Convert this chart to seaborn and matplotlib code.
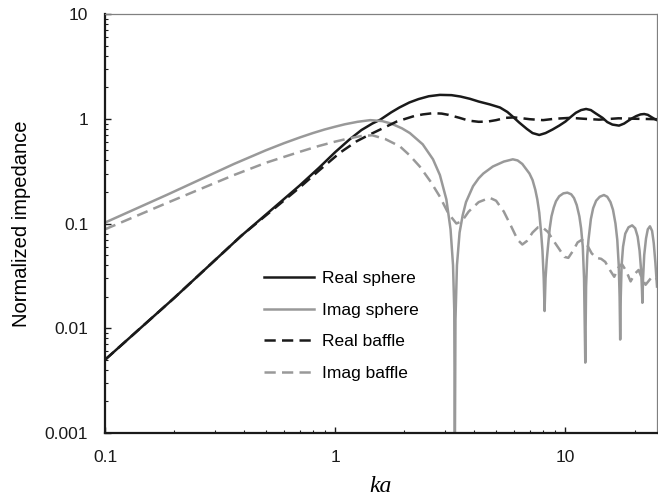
import numpy as np
import pandas as pd
import seaborn as sns
import matplotlib.pyplot as plt
from matplotlib.ticker import LogLocator, FuncFormatter, NullFormatter

# values
ka_real_sphere = [0.1, 0.2, 0.39, 0.7, 0.85, 1.0, 1.15, 1.3, 1.45, 1.57, 1.75, 1.9, 2.1,
                  2.3, 2.55, 2.85, 3.2, 3.5, 3.85, 4.2, 4.7, 5.2, 5.6, 5.9, 6.3, 6.8, 7.2,
                  7.7, 8.2, 8.8, 9.4, 10, 10.6, 11.1, 11.7, 12.3, 12.9, 13.5, 14.5, 15.2,
                  16.0, 17.1, 18.0, 18.8, 19.5, 20.3, 21.2, 22.0, 22.8, 23.6, 24.3, 25]
real_sphere = [0.005, 0.0195, 0.076, 0.23, 0.34, 0.48, 0.63, 0.78, 0.9, 0.98, 1.15, 1.28,
               1.43, 1.54, 1.64, 1.69, 1.68, 1.63, 1.55, 1.46, 1.37, 1.28, 1.16, 1.05,
               0.92, 0.80, 0.73, 0.70, 0.73, 0.79, 0.86, 0.94, 1.05, 1.14, 1.21, 1.24,
               1.21, 1.13, 1.02, 0.93, 0.88, 0.86, 0.9, 0.96, 1.01, 1.06, 1.1, 1.11, 1.09,
               1.04, 1.0, 0.97]

ka_imag_sphere = [0.1, 0.187, 0.363, 0.5, 0.6, 0.705, 0.8, 0.9, 1.0, 1.1, 1.25, 1.42, 1.6,
                  1.75, 1.95, 2.11, 2.4, 2.66, 2.85, 3.04, 3.17, 3.25, 3.29, 3.31, 3.33,
                  3.38, 3.47, 3.58, 3.7, 3.97, 4.2, 4.4, 4.84, 5.4, 5.91, 6.2, 6.5, 6.98,
                  7.2, 7.4, 7.55, 7.7, 7.85, 7.95, 8.05, 8.12, 8.2, 8.3, 8.4, 8.55, 8.7,
                  8.9, 9.1, 9.4, 9.8, 10.2, 10.6, 10.9, 11.2, 11.5, 11.7, 11.9, 12.05,
                  12.2, 12.3, 12.45, 12.6, 12.9, 13.2, 13.6, 14.1, 14.7, 15.2, 15.7, 16.1,
                  16.5, 16.8, 17.05, 17.2, 17.3, 17.4, 17.55, 17.8, 18.2, 18.8, 19.5, 20.1,
                  20.6, 21.0, 21.3, 21.5, 21.6, 21.75, 22.0, 22.4, 22.8, 23.3, 23.8, 24.2,
                  24.6, 25]
imag_sphere = [0.102, 0.189, 0.37, 0.5, 0.585, 0.665, 0.73, 0.79, 0.84, 0.885, 0.935,
               0.97, 0.95, 0.9, 0.81, 0.73, 0.57, 0.41, 0.29, 0.17, 0.088, 0.04, 0.015,
               0.0006, 0.012, 0.04, 0.082, 0.12, 0.16, 0.227, 0.27, 0.3, 0.35, 0.39, 0.41,
               0.40, 0.37, 0.30, 0.26, 0.21, 0.17, 0.127, 0.08, 0.055, 0.03, 0.0146, 0.03,
               0.045, 0.06, 0.09, 0.117, 0.142, 0.163, 0.182, 0.194, 0.197, 0.19, 0.175,
               0.15, 0.117, 0.09, 0.06, 0.03, 0.0047, 0.025, 0.05, 0.07, 0.11, 0.14,
               0.165, 0.18, 0.187, 0.18, 0.16, 0.135, 0.1, 0.07, 0.04, 0.02, 0.0078, 0.02,
               0.04, 0.06, 0.08, 0.092, 0.096, 0.09, 0.075, 0.055, 0.037, 0.024, 0.0175,
               0.03, 0.05, 0.072, 0.088, 0.094, 0.085, 0.065, 0.042, 0.025]

ka_real_baffle = [0.1, 0.2, 0.39, 0.7, 0.85, 1.05, 1.24, 1.4, 1.57, 1.85, 2.2, 2.4, 2.66,
                  2.9, 3.1, 3.47, 3.8, 4.2, 4.6, 5.0, 5.5, 6.0, 6.5, 7.0, 8.0, 9.0, 10.5,
                  12, 14, 17, 20, 25]
real_baffle = [0.005, 0.0195, 0.076, 0.22, 0.32, 0.475, 0.61, 0.70, 0.79, 0.94, 1.06, 1.1,
               1.13, 1.12, 1.09, 1.02, 0.96, 0.935, 0.94, 0.97, 1.02, 1.03, 1.01, 0.99,
               0.97, 1.0, 1.02, 1.0, 0.98, 1.01, 1.0, 0.99]

ka_imag_baffle = [0.1, 0.187, 0.363, 0.5, 0.705, 0.85, 1.0, 1.15, 1.3, 1.45, 1.65, 1.91,
                  2.1, 2.33, 2.6, 2.85, 3.1, 3.36, 3.55, 3.8, 4.2, 4.69, 5.0, 5.4, 5.8, 6.2,
                  6.5, 6.8, 7.2, 7.6, 7.9, 8.4, 8.9, 9.4, 9.9, 10.3, 10.8, 11.3, 11.8,
                  12.4, 13.0, 13.6, 14.3, 14.9, 15.6, 16.3, 17.0, 17.6, 18.4, 19.2, 20.0,
                  20.8, 21.5, 22.3, 23.5, 24.6, 25]
imag_baffle = [0.088, 0.158, 0.29, 0.38, 0.485, 0.55, 0.605, 0.65, 0.685, 0.695, 0.64,
               0.545, 0.45, 0.35, 0.25, 0.18, 0.125, 0.10, 0.105, 0.13, 0.16, 0.176,
               0.165, 0.13, 0.095, 0.07, 0.063, 0.068, 0.082, 0.092, 0.093, 0.083, 0.068,
               0.057, 0.048, 0.047, 0.055, 0.066, 0.07, 0.063, 0.052, 0.047, 0.046,
               0.043, 0.036, 0.031, 0.038, 0.041, 0.035, 0.028, 0.033, 0.036, 0.03,
               0.026, 0.03, 0.031, 0.029]

names = ['Real sphere', 'Imag sphere', 'Real baffle', 'Imag baffle']
parts = []
for name, x, y in zip(names,
                      [ka_real_sphere, ka_imag_sphere, ka_real_baffle, ka_imag_baffle],
                      [real_sphere, imag_sphere, real_baffle, imag_baffle]):
    parts.append(pd.DataFrame({'ka': x, 'z': y, 'series': name}))
df = pd.concat(parts, ignore_index=True)

black = '#1a1a1a'
grey = '#999999'
palette = {'Real sphere': black, 'Imag sphere': grey, 'Real baffle': black, 'Imag baffle': grey}
dashes = {'Real sphere': '', 'Imag sphere': '', 'Real baffle': (4.5, 2.5), 'Imag baffle': (4.5, 2.5)}

plt.rcParams['font.family'] = ['Liberation Sans', 'DejaVu Sans']

fig = plt.figure(figsize=(6.58, 4.96), dpi=100)
ax = fig.add_axes([105 / 658, 1 - 433 / 496, 552 / 658, 419 / 496])

sns.lineplot(data=df, x='ka', y='z', hue='series', style='series', hue_order=names,
             style_order=names, palette=palette, dashes=dashes, estimator=None,
             sort=False, linewidth=1.8, ax=ax)

ax.set_xscale('log')
ax.set_yscale('log')
ax.set_xlim(0.1, 25)
ax.set_ylim(0.001, 10)

fmt = FuncFormatter(lambda v, p: '{:g}'.format(v))
for axis in (ax.xaxis, ax.yaxis):
    axis.set_major_locator(LogLocator(base=10))
    axis.set_minor_locator(LogLocator(base=10, subs=np.arange(2, 10)))
    axis.set_major_formatter(fmt)
    axis.set_minor_formatter(NullFormatter())

ax.tick_params(which='both', direction='in', colors=black, labelsize=12.5)
ax.tick_params(which='major', length=4, width=1)
ax.tick_params(which='minor', length=2.5, width=0.8)
ax.tick_params(axis='x', which='major', pad=12)
ax.tick_params(axis='y', which='major', pad=12)

for side in ('left', 'bottom'):
    ax.spines[side].set_color(black)
    ax.spines[side].set_linewidth(1.6)
for side in ('top', 'right'):
    ax.spines[side].set_color('#808080')
    ax.spines[side].set_linewidth(0.9)

ax.set_xlabel('ka', fontsize=17, style='italic', family=['Liberation Serif', 'DejaVu Serif'],
              labelpad=8)
ax.set_ylabel('Normalized impedance', fontsize=14.5, labelpad=10)

handles, labels = ax.get_legend_handles_labels()
pairs = [(h, l) for h, l in zip(handles, labels) if l in names]
ax.legend([h for h, l in pairs], [l for h, l in pairs], frameon=False, fontsize=12.5,
          loc='upper left', bbox_to_anchor=(264 / 658, 1 - 271 / 496),
          bbox_transform=fig.transFigure, borderpad=0, borderaxespad=0,
          handlelength=2.9, handletextpad=0.45, labelspacing=0.95)

fig.savefig('out.png', dpi=100)
